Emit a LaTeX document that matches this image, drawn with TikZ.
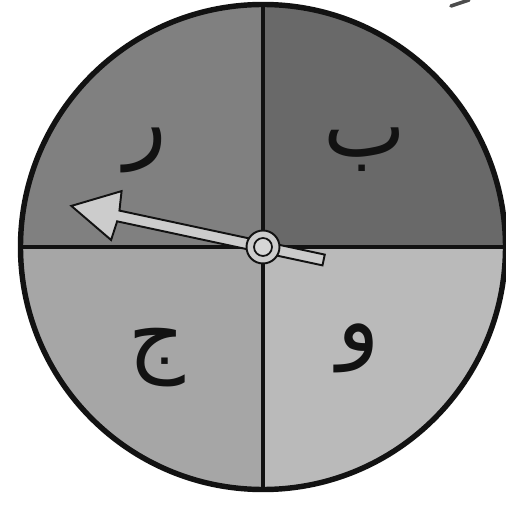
\documentclass[tikz,border=0pt]{standalone}
\usepackage{fontspec}
\newfontfamily\arabicfont[Script=Arabic]{DejaVu Sans}
\TeXXeTstate=1

\definecolor{sliceR}{gray}{0.50}
\definecolor{sliceB}{gray}{0.41}
\definecolor{sliceJ}{gray}{0.65}
\definecolor{sliceW}{gray}{0.73}
\definecolor{needle}{gray}{0.80}
\definecolor{rim}{gray}{0.07}

\tikzset{
  letter/.style={font=\arabicfont\fontsize{50}{56}\selectfont,
    text=rim, inner sep=0pt},
}

\begin{document}
\begin{tikzpicture}[x=0.02cm, y=0.02cm]
  \useasboundingbox (-263,-259) rectangle (242,247);
  \fill[white] (-263,-259) rectangle (242,247);
  % the four slices, counter-clockwise from the east
  \fill[sliceB] (0,0) -- (0:242.5) arc (0:90:242.5) -- cycle;
  \fill[sliceR] (0,0) -- (90:242.5) arc (90:180:242.5) -- cycle;
  \fill[sliceJ] (0,0) -- (180:242.5) arc (180:270:242.5) -- cycle;
  \fill[sliceW] (0,0) -- (270:242.5) arc (270:360:242.5) -- cycle;
  % dividers and rim
  \draw[rim, line width=2.5pt] (-242.5,0) -- (242.5,0);
  \draw[rim, line width=2.5pt] (0,-242.5) -- (0,242.5);
  \draw[rim, line width=3.1pt] (0,0) circle (242.5);
  % letters
  \node[letter] (ra)  at (-117,97)   {\beginR ر\endR};
  \node[letter] (ba)  at (102,97)    {\beginR ب\endR};
  \node[letter] (jim) at (-106,-111) {\beginR ج\endR};
  \node[letter] (waw) at (96,-101)   {\beginR و\endR};
  % the needle, laid along x and turned to point at ra
  \begin{scope}[rotate=167.9]
    \draw[rim, fill=needle, line width=1.1pt, line join=miter]
      (-62,-5.5) -- (148,-5.5) -- (150,-25) -- (196,0) -- (150,25)
      -- (148,5.5) -- (-62,5.5) -- cycle;
  \end{scope}
  % pivot
  \node[circle, draw=rim, fill=needle, line width=1.1pt, minimum size=0.66cm,
    inner sep=0pt] (pivot) at (0,0) {};
  \node[circle, draw=rim, fill=needle!80!white, line width=1pt,
    minimum size=0.36cm, inner sep=0pt] (hub) at (pivot) {};
  % smudge cut off at the top right
  \draw[black!70, line width=2pt, line cap=round] (188,241) -- (206,247);
\end{tikzpicture}
\end{document}
